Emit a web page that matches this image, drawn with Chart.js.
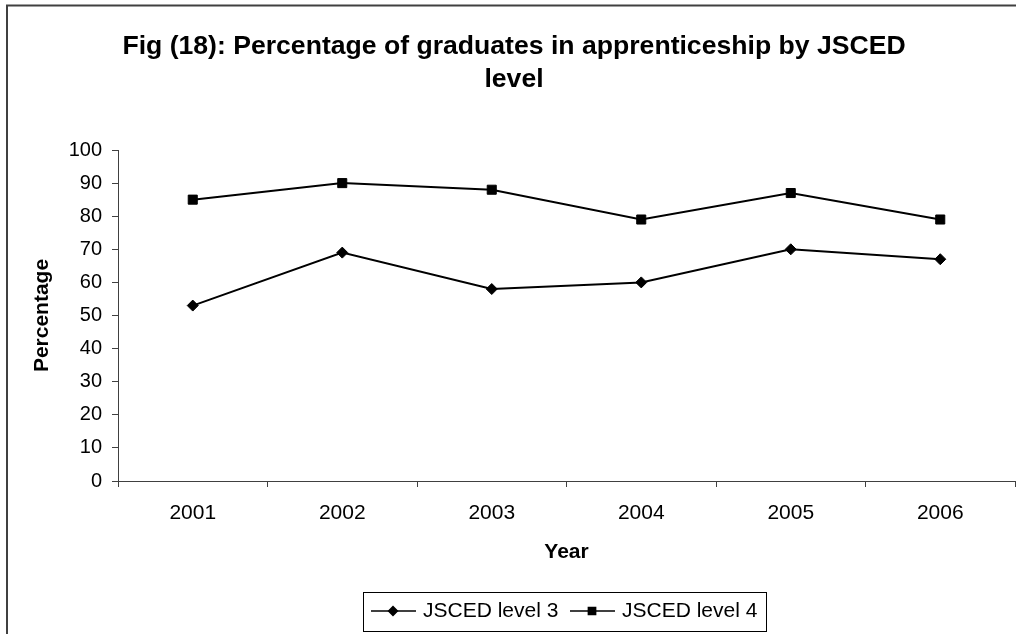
<!DOCTYPE html>
<html>
<head>
<meta charset="utf-8">
<title>Fig (18)</title>
<script src="https://cdn.jsdelivr.net/npm/chart.js@4.4.1/dist/chart.umd.min.js"></script>
<style>
    body { margin: 0; background: #fff; }
    canvas { display: block; }
</style>
</head>
<body>
<canvas id="apprenticeChart" width="1016" height="634"></canvas>
<script>
// Data
const years = ['2001', '2002', '2003', '2004', '2005', '2006'];
const level3 = [53, 69, 58, 60, 70, 67];
const level4 = [85, 90, 88, 79, 87, 79];
const seriesNames = ['JSCED level 3', 'JSCED level 4'];
const titleLines = ['Fig (18): Percentage of graduates in apprenticeship by JSCED', 'level'];
const yMin = 0;
const yMax = 100;
const yStep = 10;

const FONT = "'Liberation Sans', Arial, sans-serif";

// Frame, title and the boxed legend (Excel style)
const excelDecor = {
    id: 'excelDecor',
    beforeDraw(chart) {
        const ctx = chart.ctx;
        ctx.save();
        ctx.fillStyle = '#fff';
        ctx.fillRect(0, 0, chart.width, chart.height);
        // outer chart frame (right and bottom edges are cut off)
        ctx.strokeStyle = '#404040';
        ctx.lineWidth = 2;
        ctx.beginPath();
        ctx.moveTo(7, chart.height);
        ctx.lineTo(7, 5.5);
        ctx.lineTo(chart.width, 5.5);
        ctx.stroke();
        ctx.restore();
    },
    afterDraw(chart) {
        const ctx = chart.ctx;
        ctx.save();

        // title
        ctx.fillStyle = '#000';
        ctx.font = 'bold 26.6px ' + FONT;
        ctx.textAlign = 'center';
        ctx.textBaseline = 'alphabetic';
        ctx.fillText(titleLines[0], 514, 54);
        ctx.fillText(titleLines[1], 514, 87);

        // legend box
        ctx.strokeStyle = '#000';
        ctx.lineWidth = 1;
        ctx.strokeRect(363.5, 592.5, 403, 39);

        const starts = [371, 570];
        const cy = 611;
        ctx.font = '21px ' + FONT;
        ctx.textAlign = 'left';
        ctx.textBaseline = 'middle';
        chart.data.datasets.forEach((ds, i) => {
            const x0 = starts[i];
            ctx.strokeStyle = ds.borderColor;
            ctx.lineWidth = 1.5;
            ctx.beginPath();
            ctx.moveTo(x0, cy);
            ctx.lineTo(x0 + 45, cy);
            ctx.stroke();
            ctx.fillStyle = ds.pointBackgroundColor;
            ctx.strokeStyle = ds.pointBorderColor;
            Chart.helpers.drawPoint(ctx, {
                pointStyle: ds.pointStyle,
                radius: ds.pointRadius * 0.8,
                rotation: 0,
                borderWidth: 1
            }, x0 + 22, cy);
            ctx.fillStyle = '#000';
            ctx.fillText(ds.label, x0 + 52, cy);
        });

        ctx.restore();
    }
};

const ctx = document.getElementById('apprenticeChart').getContext('2d');

const apprenticeChart = new Chart(ctx, {
    type: 'line',
    data: {
        labels: years,
        datasets: [
            {
                label: seriesNames[0],
                data: level3,
                borderColor: '#000',
                borderWidth: 2,
                pointStyle: 'rectRot',
                pointRadius: 5.5,
                pointBackgroundColor: '#000',
                pointBorderColor: '#000',
                pointBorderWidth: 1,
                tension: 0
            },
            {
                label: seriesNames[1],
                data: level4,
                borderColor: '#000',
                borderWidth: 2,
                pointStyle: 'rect',
                pointRadius: 6.4,
                pointBackgroundColor: '#000',
                pointBorderColor: '#000',
                pointBorderWidth: 1,
                tension: 0
            }
        ]
    },
    options: {
        responsive: false,
        animation: false,
        layout: {
            // the plot runs off the right edge in the original
            autoPadding: false,
            padding: { top: 150, left: 0, right: 1, bottom: 0 }
        },
        plugins: {
            legend: { display: false },
            title: { display: false },
            tooltip: { enabled: false }
        },
        scales: {
            x: {
                type: 'category',
                offset: true,
                afterFit: function (scale) { scale.height = 153; },
                grid: {
                    offset: true,
                    drawOnChartArea: false,
                    drawTicks: true,
                    tickLength: 6,
                    color: '#404040'
                },
                border: { display: true, color: '#404040', width: 1 },
                ticks: {
                    color: '#000',
                    padding: 14,
                    maxRotation: 0,
                    font: { family: FONT, size: 21 }
                },
                title: {
                    display: true,
                    text: 'Year',
                    color: '#000',
                    font: { family: FONT, size: 21, weight: 'bold' },
                    padding: { top: 0, bottom: 69 }
                }
            },
            y: {
                min: yMin,
                max: yMax,
                afterFit: function (scale) { scale.width = 118; },
                grid: {
                    drawOnChartArea: false,
                    drawTicks: true,
                    tickLength: 6,
                    color: '#404040'
                },
                border: { display: true, color: '#404040', width: 1 },
                ticks: {
                    stepSize: yStep,
                    color: '#000',
                    padding: 10,
                    font: { family: FONT, size: 20 }
                },
                title: {
                    display: true,
                    text: 'Percentage',
                    color: '#000',
                    font: { family: FONT, size: 21, weight: 'bold' },
                    padding: { top: 30, bottom: 0 }
                }
            }
        }
    },
    plugins: [excelDecor]
});
</script>
</body>
</html>
